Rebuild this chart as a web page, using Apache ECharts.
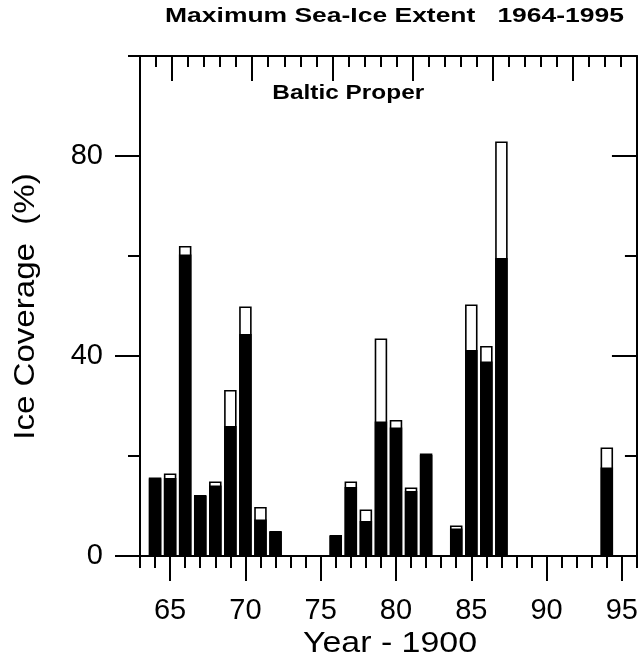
<!DOCTYPE html>
<html>
<head>
<meta charset="utf-8">
<script src="https://cdn.jsdelivr.net/npm/echarts@6/dist/echarts.min.js"></script>
<style>
html,body{margin:0;padding:0;background:#fff;}
#chart{width:641px;height:660px;}
</style>
</head>
<body>
<div id="chart"></div>
<script>
// ---- data ----
const years      = [64, 65, 66, 67, 68, 69, 70, 71, 72, 76, 77, 78, 79, 80, 81, 82, 84, 85, 86, 87, 94];
const totalCover = [15.7, 16.5, 62.0, 12.2, 14.9, 33.2, 49.9, 9.8, 5.0, 4.2, 14.9, 9.3, 43.5, 27.2, 13.7, 20.5, 6.1, 50.3, 42.0, 82.9, 21.7];
const blackCover = [15.5, 15.6, 60.3, 12.0, 14.1, 26.0, 44.4, 7.3, 4.8, 4.0, 13.8, 7.0, 26.9, 25.7, 13.0, 20.2, 5.5, 41.2, 38.9, 59.6, 17.7];
const xMajorTicks = [65, 70, 75, 80, 85, 90, 95];
const yMajorTicks = [0, 40, 80];
const yMinorTicks = [20, 60, 100];
const topMajorTicks = [2, 7, 12, 17, 22, 27];
const titleText = 'Maximum Sea-Ice Extent   1964-1995';
const subTitleText = 'Baltic Proper';
const xName = 'Year - 1900';
const yName = 'Ice Coverage  (%)';

const FONT = '"Liberation Sans", Arial, Helvetica, sans-serif';
const chart = echarts.init(document.getElementById('chart'), null, {renderer: 'canvas'});

const totalData = years.map((y, i) => [y, totalCover[i]]);
const blackData = years.map((y, i) => [y, blackCover[i]]);

const noLine = {show: false, onZero: false};
const blackLine = {show: true, onZero: false, lineStyle: {color: '#000', width: 2}};
const tickStyle = {color: '#000', width: 2};

function label(text, x, y, size, bold, scaleX, rotation) {
  return {
    type: 'text', x: x, y: y, scaleX: scaleX, rotation: rotation || 0, silent: true,
    style: {
      text: text, fontSize: size, fontWeight: bold ? 'bold' : 'normal', fontFamily: FONT,
      fill: '#000', align: 'center', verticalAlign: 'middle'
    }
  };
}

const option = {
  backgroundColor: '#fff',
  animation: false,
  textStyle: {fontFamily: FONT},
  graphic: [
    label(titleText, 394.5, 16, 21, true, 1.26),
    label(subTitleText, 348.3, 93, 20, true, 1.22),
    label(xName, 390, 644, 29, false, 1.17),
    label(yName, 26, 306.5, 29, false, 1.14, Math.PI / 2)
  ],
  grid: {left: 140, right: 3, top: 56, bottom: 104, containLabel: false},
  xAxis: [{
    type: 'value', position: 'bottom', min: 63, max: 96,
    splitLine: {show: false},
    axisLine: blackLine,
    axisTick: {show: true, inside: false, length: 25, customValues: xMajorTicks, lineStyle: tickStyle},
    axisLabel: {show: true, customValues: xMajorTicks, fontSize: 29, color: '#000', margin: 40, fontFamily: FONT}
  }, {
    type: 'value', position: 'bottom', min: 63, max: 96, interval: 1,
    splitLine: {show: false}, axisLine: noLine, axisLabel: {show: false},
    axisTick: {show: true, inside: false, length: 12, lineStyle: tickStyle}
  }, {
    type: 'value', position: 'top', min: 0, max: 31,
    splitLine: {show: false},
    axisLine: blackLine,
    axisLabel: {show: false},
    axisTick: {show: true, inside: true, length: 25, customValues: topMajorTicks, lineStyle: tickStyle}
  }, {
    type: 'value', position: 'top', min: 0, max: 31, interval: 1,
    splitLine: {show: false}, axisLine: noLine, axisLabel: {show: false},
    axisTick: {show: true, inside: true, length: 11, lineStyle: tickStyle}
  }],
  yAxis: [{
    type: 'value', position: 'left', min: 0, max: 100,
    splitLine: {show: false},
    axisLine: blackLine,
    axisTick: {show: true, inside: false, length: 25, customValues: yMajorTicks, lineStyle: tickStyle},
    axisLabel: {show: true, customValues: yMajorTicks, fontSize: 29, color: '#000', margin: 37, fontFamily: FONT}
  }, {
    type: 'value', position: 'left', min: 0, max: 100,
    splitLine: {show: false}, axisLine: noLine, axisLabel: {show: false},
    axisTick: {show: true, inside: false, length: 12, customValues: yMinorTicks, lineStyle: tickStyle}
  }, {
    type: 'value', position: 'right', min: 0, max: 100,
    splitLine: {show: false},
    axisLine: blackLine,
    axisLabel: {show: false},
    axisTick: {show: true, inside: true, length: 25, customValues: yMajorTicks, lineStyle: tickStyle}
  }, {
    type: 'value', position: 'right', min: 0, max: 100,
    splitLine: {show: false}, axisLine: noLine, axisLabel: {show: false},
    axisTick: {show: true, inside: true, length: 12, customValues: yMinorTicks, lineStyle: tickStyle}
  }],
  series: [{
    name: 'Total', type: 'bar', xAxisIndex: 0, yAxisIndex: 0,
    data: totalData, barWidth: 12.5,
    itemStyle: {color: '#fff', borderColor: '#000', borderWidth: 1.6},
    z: 2
  }, {
    name: 'Solid', type: 'bar', xAxisIndex: 0, yAxisIndex: 0,
    data: blackData, barWidth: 12.5, barGap: '-100%',
    itemStyle: {color: '#000', borderColor: '#000', borderWidth: 1.6},
    z: 3
  }]
};
chart.setOption(option);
</script>
</body>
</html>
